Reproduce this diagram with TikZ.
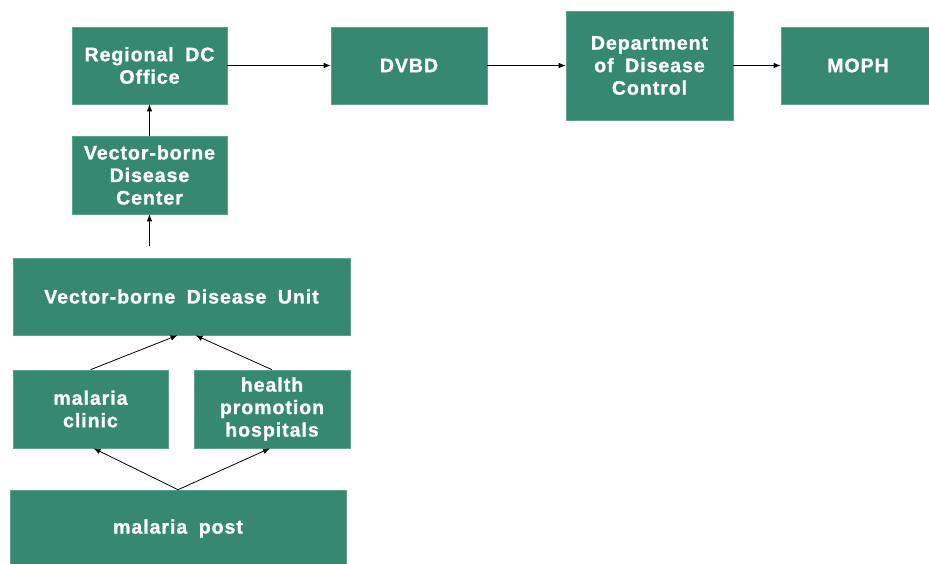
\documentclass[tikz,border=0pt]{standalone}
\usepackage{fontspec}
\setmainfont{Liberation Sans}
\newfontfamily\boxfont[LetterSpace=5, WordSpace=1.8, FakeBold=1.2]{Liberation Sans Bold}
\usepackage{tikz}
\usetikzlibrary{arrows.meta}

\definecolor{boxgreen}{RGB}{54,137,112}

\tikzset{
  box/.style={fill=boxgreen, draw=boxgreen!80!white, line width=0.6pt, inner sep=0pt,
    text=white, align=center, font=\boxfont\fontsize{19.5}{22.5}\selectfont},
  arr/.style={line width=0.8pt, -{Latex[length=7pt,width=5.5pt]}}
}

\begin{document}
\begin{tikzpicture}[x=1pt,y=1pt]
\useasboundingbox (0,0) rectangle (929,563);
% top row
\node[box, minimum width=155pt, minimum height=77pt] (reg) at (149.5,497.5) {Regional DC\\Office};
\node[box, minimum width=156pt, minimum height=77pt] (dvbd) at (409,497.5) {DVBD};
\node[box, minimum width=167pt, minimum height=109pt] (ddc) at (649.5,497.5) {Department\\of Disease\\Control};
\node[box, minimum width=154pt, minimum height=77pt] (moph) at (858,497.5) {MOPH};
% left column
\node[box, minimum width=155pt, minimum height=78pt] (vdc) at (149.5,388) {Vector-borne\\Disease\\Center};
\node[box, minimum width=337pt, minimum height=77pt] (vdu) at (181.5,266.5) {Vector-borne Disease Unit};
\node[box, minimum width=155pt, minimum height=78pt] (clinic) at (90.5,154) {malaria\\clinic};
\node[box, minimum width=156pt, minimum height=78pt] (hosp) at (272,154) {health\\promotion\\hospitals};
\node[box, minimum width=336pt, minimum height=77pt] (post) at (178,34.5) {malaria post};

\coordinate (gap) at ([yshift=12pt]vdu.north -| vdc.south);

\draw[arr] (reg) -- (dvbd);
\draw[arr] (dvbd) -- (ddc);
\draw[arr] (ddc) -- (moph);
\draw[arr] (vdc) -- (reg);
\draw[arr] (gap) -- (vdc);
\draw[arr] (clinic.north) -- ([xshift=-4pt]vdu.south);
\draw[arr] (hosp.north) -- ([xshift=14pt]vdu.south);
\draw[arr] (post.north) -- ([xshift=3pt]clinic.south);
\draw[arr] (post.north) -- ([xshift=-2pt]hosp.south);
\end{tikzpicture}
\end{document}
